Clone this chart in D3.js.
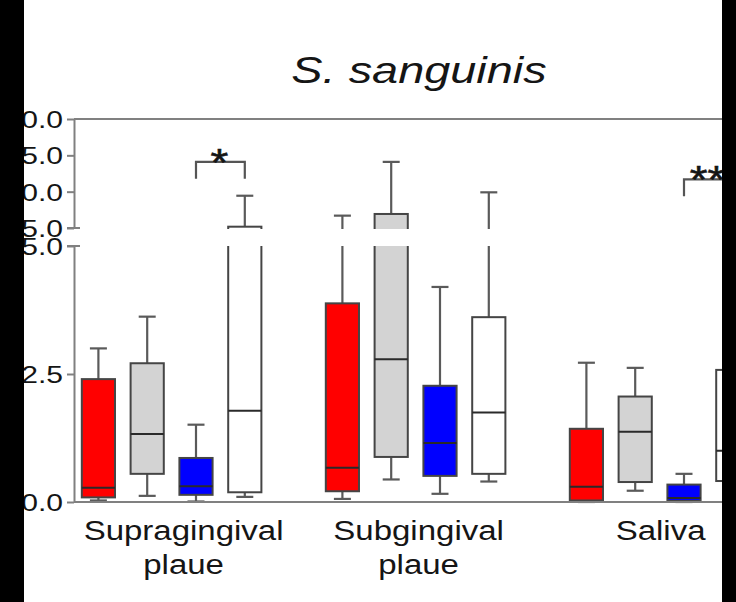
<!DOCTYPE html>
<html>
<head>
<meta charset="utf-8">
<script src="https://cdn.jsdelivr.net/npm/d3@7"></script>
<style>
  html, body { margin: 0; padding: 0; background: #fff; }
  svg { display: block; }
</style>
</head>
<body>
<svg id="chart" width="736" height="602"></svg>
<script>
// ---------------- DATA ----------------
const categories = ["Supragingival\nplaue", "Subgingival\nplaue", "Saliva"];
const seriesKeys = ["red", "grey", "blue", "white"];
const seriesColors = ["#ff0000", "#d3d3d3", "#0000ff", "#ffffff"];
// each entry: [min, q1, median, q3, max] per category
const redBoxes   = [[0.03, 0.09, 0.28, 2.40, 3.00], [0.06, 0.21, 0.67, 3.88, 6.70], [0.00, 0.03, 0.30, 1.43, 2.72]];
const greyBoxes  = [[0.12, 0.55, 1.33, 2.71, 3.62], [0.44, 0.88, 2.79, 6.93, 14.1], [0.22, 0.39, 1.37, 2.06, 2.62]];
const blueBoxes  = [[0.01, 0.14, 0.31, 0.86, 1.51], [0.16, 0.51, 1.15, 2.27, 4.20], [0.00, 0.02, 0.08, 0.34, 0.55]];
const whiteBoxes = [[0.10, 0.19, 1.78, 5.18, 9.44], [0.40, 0.55, 1.75, 3.61, 9.91], [0.30, 0.41, 1.00, 2.58, 3.20]];
const lowerTicks = [0, 2.5, 5];
const upperTicks = [5, 10, 15, 20];
const title = "S. sanguinis";
// significance brackets: category index, series from/to, level (value), label
const sigCats   = [0, 2];
const sigFrom   = ["blue", "blue"];
const sigTo     = ["white", "white"];
const sigLevel  = [14.1, 11.7];
const sigLabels = ["*", "**"];

// ---------------- LAYOUT ----------------
const svg = d3.select("#chart");
const axisX = 74;
const lowY0 = 502, lowY1 = 246, upY0 = 228, upY1 = 119;
const groupStep = 244;
const slot = 48.8;
const font = "'Liberation Sans', Arial, Helvetica, sans-serif";
const axisColor = "#808080";
const boxStroke = "#454545";
const textColor = "#151515";
const labelDx = [12, 3, 1];

const x0 = d3.scaleBand().domain(categories).range([axisX, axisX + 3 * groupStep]).padding(0);
const x1 = d3.scaleBand().domain(seriesKeys).range([0, 4 * slot]).paddingInner(0.32).paddingOuter(0.16);
const yLow = d3.scaleLinear().domain([0, 5]).range([lowY0, lowY1]);
const yUp  = d3.scaleLinear().domain([5, 20]).range([upY0, upY1]);

const allBoxes = [redBoxes, greyBoxes, blueBoxes, whiteBoxes];
const boxData = [];
seriesKeys.forEach((k, si) => {
  categories.forEach((c, ci) => {
    const v = allBoxes[si][ci];
    boxData.push({ key: k, cat: c, color: seriesColors[si], min: v[0], q1: v[1], med: v[2], q3: v[3], max: v[4] });
  });
});

const defs = svg.append("defs");
defs.append("clipPath").attr("id", "clipLow").append("rect")
  .attr("x", 0).attr("y", lowY1).attr("width", 736).attr("height", 602 - lowY1);
defs.append("clipPath").attr("id", "clipUp").append("rect")
  .attr("x", 0).attr("y", 100).attr("width", 736).attr("height", upY0 + 1 - 100);

const boxW = x1.bandwidth();
const capW = 17;

function drawBoxes(g, y) {
  const bg = g.selectAll("g.box").data(boxData).join("g").attr("class", "box")
    .attr("transform", d => `translate(${x0(d.cat) + x1(d.key) + boxW / 2},0)`);
  const ws = "#5a5a5a";
  bg.append("line").attr("x1", 0).attr("x2", 0)
    .attr("y1", d => y(d.max)).attr("y2", d => y(d.q3))
    .attr("stroke", ws).attr("stroke-width", 2.2);
  bg.append("line").attr("x1", 0).attr("x2", 0)
    .attr("y1", d => y(d.q1)).attr("y2", d => y(d.min))
    .attr("stroke", ws).attr("stroke-width", 2.2);
  bg.append("line").attr("x1", -capW / 2).attr("x2", capW / 2)
    .attr("y1", d => y(d.max)).attr("y2", d => y(d.max))
    .attr("stroke", ws).attr("stroke-width", 2.2);
  bg.append("line").attr("x1", -capW / 2).attr("x2", capW / 2)
    .attr("y1", d => y(d.min)).attr("y2", d => y(d.min))
    .attr("stroke", ws).attr("stroke-width", 2.2);
  bg.append("rect").attr("x", -boxW / 2).attr("width", boxW)
    .attr("y", d => y(d.q3)).attr("height", d => y(d.q1) - y(d.q3))
    .attr("fill", d => d.color).attr("stroke", boxStroke).attr("stroke-width", 2);
  bg.append("line").attr("x1", -boxW / 2).attr("x2", boxW / 2)
    .attr("y1", d => y(d.med)).attr("y2", d => y(d.med))
    .attr("stroke", "#2a2a2a").attr("stroke-width", 2);
}

drawBoxes(svg.append("g").attr("clip-path", "url(#clipLow)"), yLow);
drawBoxes(svg.append("g").attr("clip-path", "url(#clipUp)"), yUp);

// ---------------- AXES ----------------
function styleAxis(g) {
  g.select(".domain").attr("stroke", axisColor).attr("stroke-width", 2);
  g.selectAll(".tick line").attr("stroke", axisColor).attr("stroke-width", 2);
  g.selectAll(".tick text")
    .attr("font-family", font).attr("font-size", 23.5).attr("fill", textColor)
    .attr("x", -8.6).attr("dy", "0.36em")
    .attr("transform", "scale(1.28,1)");
}
const fmt = d3.format(".1f");
svg.append("g").attr("transform", `translate(${axisX},0)`)
  .call(d3.axisLeft(yLow).tickValues(lowerTicks).tickFormat(fmt).tickSize(7).tickSizeOuter(0))
  .call(styleAxis);
svg.append("g").attr("transform", `translate(${axisX},0)`)
  .call(d3.axisLeft(yUp).tickValues(upperTicks).tickFormat(fmt).tickSize(7).tickSizeOuter(0))
  .call(styleAxis);

// break caps
[yUp(5), yLow(5)].forEach(yy => {
  svg.append("line").attr("x1", axisX - 7).attr("x2", axisX + 6)
    .attr("y1", yy).attr("y2", yy).attr("stroke", axisColor).attr("stroke-width", 2);
});
// top line and baseline
svg.append("line").attr("x1", axisX).attr("x2", 736)
  .attr("y1", yUp(20)).attr("y2", yUp(20)).attr("stroke", axisColor).attr("stroke-width", 2);
svg.append("line").attr("x1", axisX).attr("x2", 736)
  .attr("y1", yLow(0)).attr("y2", yLow(0)).attr("stroke", axisColor).attr("stroke-width", 2);

// ---------------- CATEGORY LABELS ----------------
categories.forEach((c, i) => {
  const cx = x0(c) + x1(seriesKeys[0]) + (x1(seriesKeys[3]) + boxW - x1(seriesKeys[0])) / 2 + labelDx[i];
  const lines = c.split("\n");
  lines.forEach((ln, j) => {
    svg.append("text")
      .attr("transform", `translate(${cx},${540 + j * 34}) scale(1.2,1)`)
      .attr("text-anchor", "middle")
      .attr("font-family", font).attr("font-size", 27.5).attr("fill", textColor)
      .text(ln);
  });
});

// ---------------- SIGNIFICANCE ----------------
sigCats.forEach((ci, i) => {
  const c = categories[ci];
  const xa = x0(c) + x1(sigFrom[i]) + boxW / 2;
  const xb = x0(c) + x1(sigTo[i]) + boxW / 2;
  const yy = yUp(sigLevel[i]);
  svg.append("path")
    .attr("d", `M${xa},${yy + 17}V${yy}H${xb}V${yy + 17}`)
    .attr("fill", "none").attr("stroke", "#555").attr("stroke-width", 2.2);
  svg.append("text")
    .attr("transform", `translate(${(xa + xb) / 2 - 1},${yy + 14}) scale(1.2,1)`)
    .attr("text-anchor", "middle")
    .attr("font-family", font).attr("font-size", 38).attr("fill", textColor)
    .attr("stroke", textColor).attr("stroke-width", 0.6)
    .text(sigLabels[i]);
});

// ---------------- TITLE ----------------
svg.append("text")
  .attr("transform", "translate(419,83) scale(1.25,1)")
  .attr("text-anchor", "middle")
  .attr("font-family", font).attr("font-size", 37.5).attr("font-style", "italic")
  .attr("fill", textColor)
  .text(title);

// ---------------- CROP FRAME ----------------
svg.append("rect").attr("x", 0).attr("y", 0).attr("width", 24).attr("height", 602).attr("fill", "#000");
svg.append("rect").attr("x", 722).attr("y", 0).attr("width", 14).attr("height", 602).attr("fill", "#000");
</script>
</body>
</html>
